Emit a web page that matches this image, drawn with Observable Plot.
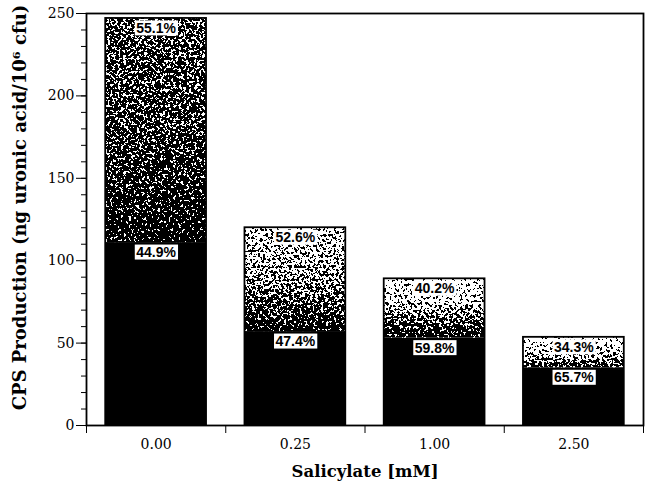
<!DOCTYPE html>
<html><head><meta charset="utf-8">
<script src="https://cdn.jsdelivr.net/npm/d3@7"></script>
<script src="https://cdn.jsdelivr.net/npm/@observablehq/plot@0.6"></script>
<style>
body{margin:0;background:#fff}
g[aria-label="y-axis label"]{font-weight:bold;font-size:18px}
g[aria-label="x-axis label"]{font-weight:bold;font-size:16.5px}
</style></head><body><div id="chart"></div>
<script>
const categories = ["0.00", "0.25", "1.00", "2.50"];
const lowerValues = [111, 57, 53, 35];
const upperValues = [136, 63, 36, 18.5];
const lowerLabels = ["44.9%", "47.4%", "59.8%", "65.7%"];
const upperLabels = ["55.1%", "52.6%", "40.2%", "34.3%"];
const yTicks = [0, 50, 100, 150, 200, 250];
const yMinorTicks = [0,10,20,30,40,50,60,70,80,90,100,110,120,130,140,150,160,170,180,190,200,210,220,230,240,250];
const xBoundaries = [0, 1, 2, 3, 4];
const xCenters = [0.5, 1.5, 2.5, 3.5];

const data = categories.map((c, i) => ({
  c, pos: xCenters[i],
  lower: lowerValues[i], upper: upperValues[i],
  total: lowerValues[i] + upperValues[i],
  lowerLabel: lowerLabels[i], upperLabel: upperLabels[i],
  grad: `url(#grad${i})`
}));
const half = 0.362;

const plot = Plot.plot({
  width: 646, height: 482,
  marginLeft: 86, marginRight: 3, marginTop: 13, marginBottom: 57,
  style: {fontFamily: "DejaVu Serif", fontSize: "14px", color: "black", background: "white"},
  x: {domain: [0, 4], axis: null},
  y: {domain: [0, 250], axis: null},
  color: {type: "identity"},
  marks: [
    Plot.rect(data, {x1: d => d.pos - half, x2: d => d.pos + half, y1: 0, y2: "lower", fill: "black"}),
    Plot.rect(data, {x1: d => d.pos - half, x2: d => d.pos + half, y1: "lower", y2: "total", fill: "grad"}),
    Plot.rect(data, {x1: d => d.pos - half, x2: d => d.pos + half, y1: 0, y2: "total", fill: "none", stroke: "black", strokeWidth: 1.8}),
    Plot.text(data, {x: "pos", y: "total", dy: 10, text: "upperLabel", fontFamily: "Liberation Sans", fontSize: 14, fontWeight: "bold", fill: "black"}),
    Plot.text(data, {x: "pos", y: "lower", dy: 10, text: "lowerLabel", fontFamily: "Liberation Sans", fontSize: 14, fontWeight: "bold", fill: "black"}),
    Plot.axisY({ticks: yMinorTicks, tickSize: 5, tickFormat: () => "", label: null}),
    Plot.axisY({ticks: yTicks, tickSize: 10, tickPadding: 2, tickFormat: d => String(d), label: "CPS Production (ng uronic acid/10⁶ cfu)", labelAnchor: "center", labelOffset: 73, labelArrow: "none"}),
    Plot.axisX({ticks: xBoundaries, tickSize: 8, tickFormat: () => "", label: null}),
    Plot.axisX({ticks: xCenters, tickSize: 0, tickPadding: 14, tickFormat: d => categories[xCenters.indexOf(d)], label: "Salicylate [mM]", labelAnchor: "center", labelOffset: 51, labelArrow: "none"}),
    Plot.frame({stroke: "black", strokeWidth: 1.8})
  ]
});
document.getElementById("chart").append(plot);

const ns = "http://www.w3.org/2000/svg";
const defs = document.createElementNS(ns, "defs");
defs.innerHTML = `
<linearGradient id="grad0" x1="0" y1="0" x2="0" y2="1">
  <stop offset="0" stop-color="#5c5c5c"/><stop offset="0.5" stop-color="#444"/>
  <stop offset="0.85" stop-color="#222"/><stop offset="1" stop-color="#030303"/>
</linearGradient>
<linearGradient id="grad1" x1="0" y1="0" x2="0" y2="1">
  <stop offset="0" stop-color="#c0c0c0"/><stop offset="0.5" stop-color="#8a8a8a"/>
  <stop offset="0.8" stop-color="#444"/><stop offset="1" stop-color="#0c0c0c"/>
</linearGradient>
<linearGradient id="grad2" x1="0" y1="0" x2="0" y2="1">
  <stop offset="0" stop-color="#dcdcdc"/><stop offset="0.4" stop-color="#bcbcbc"/>
  <stop offset="0.75" stop-color="#555"/><stop offset="1" stop-color="#121212"/>
</linearGradient>
<linearGradient id="grad3" x1="0" y1="0" x2="0" y2="1">
  <stop offset="0" stop-color="#e6e6e6"/><stop offset="0.5" stop-color="#b8b8b8"/>
  <stop offset="1" stop-color="#383838"/>
</linearGradient>
<filter id="stipple" filterUnits="userSpaceOnUse" x="0" y="0" width="646" height="482" color-interpolation-filters="sRGB">
  <feTurbulence type="fractalNoise" baseFrequency="0.38" numOctaves="3" seed="7" result="noise"/>
  <feColorMatrix in="noise" type="matrix" values="1 0 0 0 0  1 0 0 0 0  1 0 0 0 0  0 0 0 0 1" result="gray"/>
  <feComposite in="SourceGraphic" in2="gray" operator="arithmetic" k1="0" k2="1" k3="3" k4="-1.5" result="sum"/>
  <feComponentTransfer in="sum" result="dither">
    <feFuncR type="discrete" tableValues="0 1"/>
    <feFuncG type="discrete" tableValues="0 1"/>
    <feFuncB type="discrete" tableValues="0 1"/>
  </feComponentTransfer>
  <feComposite in="dither" in2="SourceAlpha" operator="in"/>
</filter>`;
plot.insertBefore(defs, plot.firstChild);

const rectGroups = plot.querySelectorAll('g[aria-label="rect"]');
if (rectGroups[1]) rectGroups[1].setAttribute("filter", "url(#stipple)");

const yLabel = plot.querySelector('g[aria-label="y-axis label"]');
if (yLabel) yLabel.setAttribute("transform", "translate(0,-12) " + (yLabel.getAttribute("transform") || ""));

plot.querySelectorAll('g[aria-label="text"] text').forEach(t => {
  const b = t.getBBox();
  const r = document.createElementNS(ns, "rect");
  r.setAttribute("x", b.x - 1.5);
  r.setAttribute("y", b.y + 0.5);
  r.setAttribute("width", b.width + 3);
  r.setAttribute("height", b.height - 1);
  r.setAttribute("fill", "white");
  if (t.getAttribute("transform")) r.setAttribute("transform", t.getAttribute("transform"));
  t.parentNode.insertBefore(r, t);
});
</script></body></html>
